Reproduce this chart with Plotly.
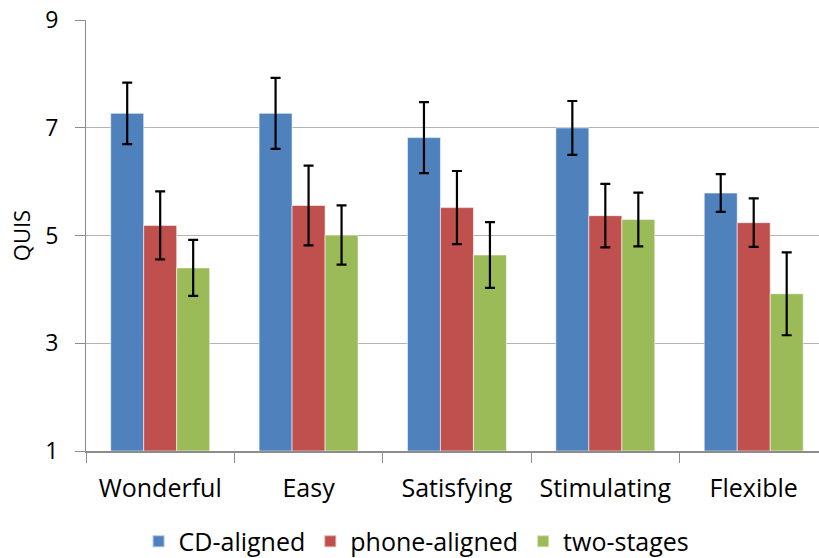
import plotly.graph_objects as go

categories = ["Wonderful", "Easy", "Satisfying", "Stimulating", "Flexible"]
series_names = ["CD-aligned", "phone-aligned", "two-stages"]
cd_aligned = [7.27, 7.27, 6.82, 7.00, 5.79]
cd_err = [0.57, 0.66, 0.66, 0.50, 0.35]
phone_aligned = [5.19, 5.56, 5.52, 5.37, 5.24]
phone_err = [0.63, 0.74, 0.68, 0.59, 0.45]
two_stages = [4.40, 5.01, 4.64, 5.30, 3.92]
two_err = [0.52, 0.55, 0.61, 0.50, 0.77]
y_ticks = [1, 3, 5, 7, 9]

colors = ["#4F81BD", "#C0504D", "#9BBB59"]
values = [cd_aligned, phone_aligned, two_stages]
errors = [cd_err, phone_err, two_err]

fig = go.Figure()
for name, vals, errs, col in zip(series_names, values, errors, colors):
    fig.add_trace(go.Bar(
        x=categories, y=[v - 1 for v in vals], base=1, name=name,
        marker=dict(color=col, line=dict(color="rgba(255,255,255,0.55)", width=1)),
        error_y=dict(type="data", array=errs, visible=True, color="black",
                     thickness=2.2, width=5),
    ))

font_family = "Open Sans, Liberation Sans, sans-serif"
fig.update_layout(
    width=819, height=558,
    margin=dict(l=86, r=0, t=20, b=107, autoexpand=False),
    paper_bgcolor="white", plot_bgcolor="white",
    barmode="group", bargap=0.333, bargroupgap=0,
    font=dict(family=font_family, size=24, color="black"),
    showlegend=True,
    legend=dict(orientation="h", x=0.451, xanchor="center", y=-0.21, yanchor="middle",
                font=dict(size=25), itemsizing="constant", traceorder="normal"),
    xaxis=dict(type="category", range=[-0.5, 4.44], tickson="boundaries",
               ticks="outside", ticklen=10, tickcolor="#8C8C8C",
               showline=True, linecolor="#8C8C8C", linewidth=1.5,
               showgrid=False, tickfont=dict(size=25), ticklabelstandoff=14),
    yaxis=dict(range=[1, 9.004], tickvals=y_ticks, ticks="outside", ticklen=10,
               tickcolor="#8C8C8C", showline=True, linecolor="#8C8C8C", linewidth=1,
               showgrid=True, gridcolor="#B4B4B4", gridwidth=1, zeroline=False,
               ticklabelstandoff=12, ticklabeloverflow="allow",
               title=dict(text="QUIS", font=dict(size=22), standoff=8),
               tickfont=dict(size=23)),
)

fig.write_html("out.html", config={"displayModeBar": False},
               post_script="document.body.style.margin='0';")
